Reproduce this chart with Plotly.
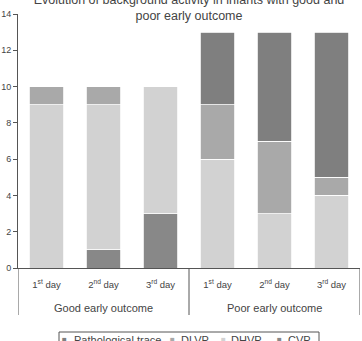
import plotly.graph_objects as go

days = ["1<sup>st</sup> day", "2<sup>nd</sup> day", "3<sup>rd</sup> day",
        "1<sup>st</sup> day", "2<sup>nd</sup> day", "3<sup>rd</sup> day"]
groups = ["Good early outcome", "Poor early outcome"]
x_pos = [0, 1, 2, 3, 4, 5]

cvp = [0, 1, 3, 0, 0, 0]
dhvp = [9, 8, 7, 6, 3, 4]
dlvp = [1, 1, 0, 3, 4, 1]
patho = [0, 0, 0, 4, 6, 8]

y_ticks = [0, 2, 4, 6, 8, 10, 12, 14]

legend_names = ["Pathological trace", "DLVP", "DHVP", "CVP"]

FONT = "Arial, Liberation Sans, sans-serif"
TXT = "#444444"
COLORS = {"CVP": "#888888", "DHVP": "#d2d2d2", "DLVP": "#a9a9a9",
          "Pathological trace": "#7f7f7f"}

fig = go.Figure()
for name, vals in [("CVP", cvp), ("DHVP", dhvp), ("DLVP", dlvp),
                   ("Pathological trace", patho)]:
    fig.add_trace(go.Bar(
        x=x_pos, y=vals, name=name, showlegend=False,
        marker=dict(color=COLORS[name], line=dict(color="white", width=0.8)),
        width=0.6,
    ))

L, R, T, B = 18, 2, 14, 73
W, H = 362, 341
PW, PH = W - L - R, H - T - B


def px_x(px):
    return (px - L) / PW


def px_y(py):
    return (H - B - py) / PH


fig.update_layout(
    barmode="stack",
    width=W, height=H,
    margin=dict(l=L, r=R, t=T, b=B),
    paper_bgcolor="white", plot_bgcolor="white",
    font=dict(family=FONT, color=TXT, size=10),
    showlegend=False,
    title=dict(
        text="Evolution of background activity in infants with good and<br>poor early outcome",
        x=0.5, xref="paper", y=1 - 3.5 / H, yref="container",
        xanchor="center", yanchor="middle",
        font=dict(size=12.5, color=TXT, family=FONT),
    ),
    xaxis=dict(
        range=[-0.5, 5.5], tickvals=x_pos, ticktext=days,
        showline=True, linecolor="#555555", linewidth=1,
        ticks="", showgrid=False, zeroline=False,
        ticklabelstandoff=8,
        tickfont=dict(size=9.5, color=TXT),
    ),
    yaxis=dict(
        range=[0, 14], tickvals=y_ticks,
        showline=True, linecolor="#555555", linewidth=1,
        ticks="outside", ticklen=4, tickcolor="#555555",
        showgrid=False, zeroline=False,
        tickfont=dict(size=9, color=TXT),
    ),
)

ext = px_y(315)
for xv in [-0.5, 2.5, 5.5]:
    fig.add_shape(type="line", xref="x", yref="paper", x0=xv, x1=xv, y0=0, y1=ext,
                  line=dict(color="#555555", width=1))

for gx, g in zip([1, 4], groups):
    fig.add_annotation(x=gx, xref="x", y=px_y(307.5), yref="paper",
                       text=g, showarrow=False, yanchor="middle",
                       font=dict(size=11, color=TXT, family=FONT))

# legend box (cut at bottom like the reference)
fig.add_shape(type="rect", xref="paper", yref="paper",
              x0=px_x(59), x1=px_x(319), y0=px_y(350), y1=px_y(332),
              line=dict(color="#555555", width=1), fillcolor="rgba(0,0,0,0)")
marker_px = [64.5, 172, 223, 279]
text_px = [72, 179, 229, 286]
ly = px_y(339.5)
for name, mx, tx in zip(legend_names, marker_px, text_px):
    fig.add_annotation(x=px_x(mx), xref="paper", y=ly, yref="paper",
                       text="■", showarrow=False, xanchor="center", yanchor="middle",
                       font=dict(size=8, color=COLORS[name], family=FONT))
    fig.add_annotation(x=px_x(tx), xref="paper", y=ly, yref="paper",
                       text=name, showarrow=False, xanchor="left", yanchor="middle",
                       font=dict(size=11, color=TXT, family=FONT))

fig.write_html("out.html")
